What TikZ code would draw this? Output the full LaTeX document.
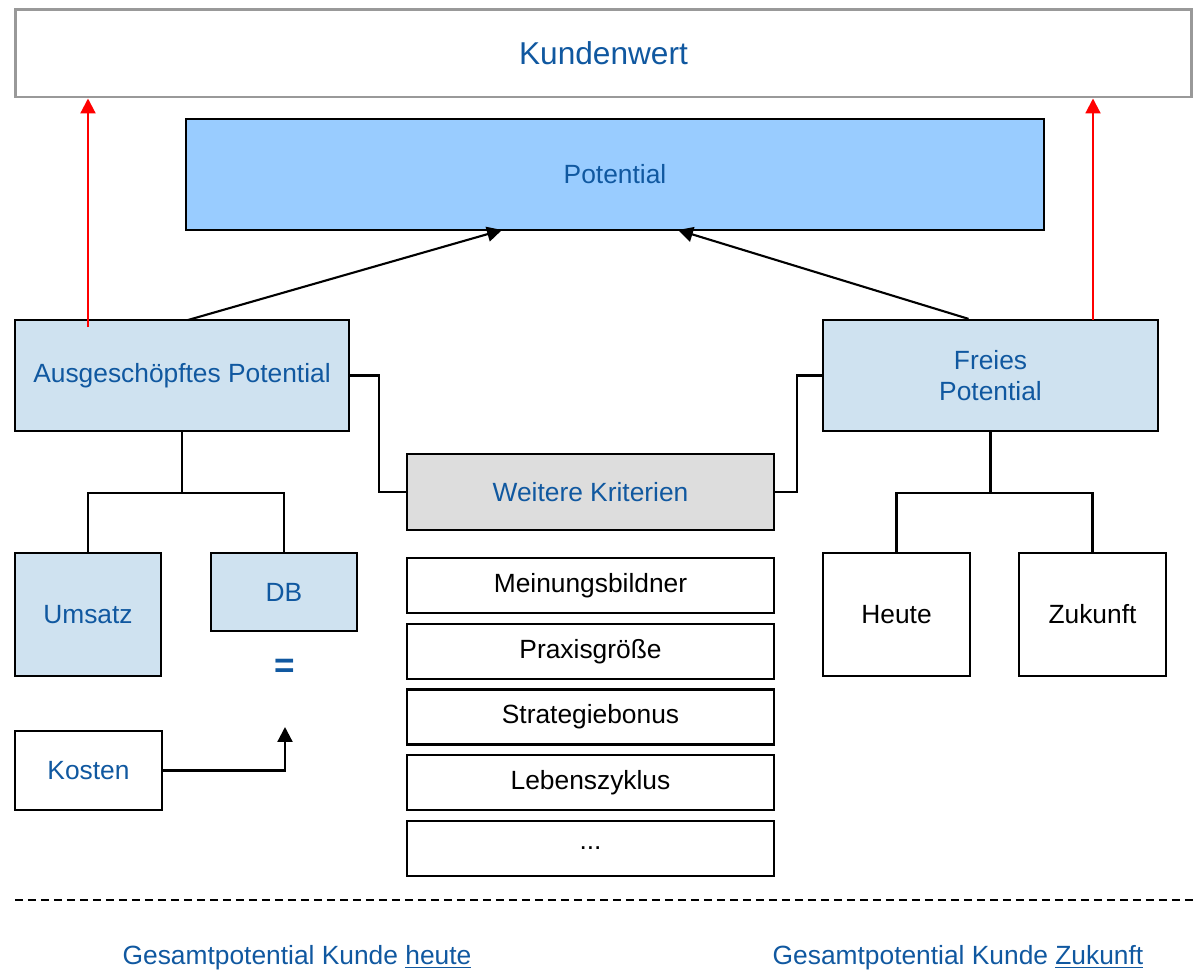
\documentclass[tikz,border=0pt]{standalone}
\usepackage{fontspec}
\setmainfont{Liberation Sans}
\usetikzlibrary{arrows.meta}
\definecolor{kwblue}{RGB}{16,88,160}
\definecolor{potfill}{RGB}{153,204,255}
\definecolor{lightfill}{RGB}{207,226,240}
\definecolor{greyfill}{RGB}{221,221,221}
\definecolor{kwframe}{RGB}{153,153,153}
\newcommand{\critdots}{...}
\tikzset{
    box/.style={draw, line width=1.3pt, inner sep=0pt, font=\fontsize{15}{18}\selectfont},
    bluebox/.style={box, text=kwblue},
    critbox/.style={box, fill=white, minimum width=7.34cm, minimum height=1.1cm},
    tip/.style={-{Triangle[length=8.5pt, width=8.5pt]}}
}
\begin{document}
\begin{tikzpicture}[x=0.02cm, y=-0.02cm]
    \useasboundingbox (0,0) rectangle (1194,974);

    \node[bluebox, draw=kwframe, line width=1.7pt, fill=white, minimum width=23.54cm, minimum height=1.76cm, font=\fontsize{18}{22}\selectfont] (kw) at (603.5,53) {Kundenwert};
    \node[bluebox, fill=potfill, minimum width=17.16cm, minimum height=2.22cm] (pot) at (615,174.5) {Potential};
    \node[bluebox, fill=lightfill, minimum width=6.68cm, minimum height=2.22cm] (aus) at (182,375.5) {Ausgeschöpftes Potential};
    \node[bluebox, fill=lightfill, minimum width=6.7cm, minimum height=2.22cm, align=center] (frei) at (990.5,375.5) {Freies\\Potential};
    \node[bluebox, fill=greyfill, minimum width=7.34cm, minimum height=1.52cm] (wk) at (590.5,492) {Weitere Kriterien};

    \foreach \name/\crit [count=\i from 0] in {mb/Meinungsbildner, pg/Praxisgröße, sb/Strategiebonus, lz/Lebenszyklus, etc/\critdots}
        \node[critbox] (\name) at (590.5, 585.5+65.75*\i) {\crit};

    \node[bluebox, fill=lightfill, minimum width=2.92cm, minimum height=2.46cm] (ums) at (88,614.5) {Umsatz};
    \node[bluebox, fill=lightfill, minimum width=2.92cm, minimum height=1.56cm] (db) at (284,592) {DB};
    \node[text=kwblue, font=\fontsize{20}{24}\selectfont\bfseries] (eq) at (285,668) {=};
    \node[bluebox, fill=white, minimum width=2.94cm, minimum height=1.58cm] (kos) at (88.5,770.5) {Kosten};
    \node[box, fill=white, minimum width=2.94cm, minimum height=2.46cm] (heu) at (896.5,614.5) {Heute};
    \node[box, fill=white, minimum width=2.94cm, minimum height=2.46cm] (zuk) at (1092.5,614.5) {Zukunft};

    \coordinate (pa) at (502,230); \coordinate (pb) at (678,230); \coordinate (dbin) at (285,727);
    \coordinate (ra) at (88,327); \coordinate (rb) at (1093,320); \coordinate (aa) at (188,320);

    \draw[tip, line width=1.2pt] (aa) -- (pa); \draw[tip, line width=1.2pt] (frei.north) ++(-22,0) -- (pb);
    \draw[tip, red, line width=1.2pt] (ra) -- (ra |- kw.south); \draw[tip, red, line width=1.2pt] (rb) -- (rb |- kw.south);

    \draw[line width=1.4pt] (aus.south) -- ++(0,61) -| (ums.north); \draw[line width=1.4pt] (aus.south) -- ++(0,61) -| (db.north);
    \draw[line width=1.4pt] (frei.south) -- ++(0,61) -| (heu.north); \draw[line width=1.4pt] (frei.south) -- ++(0,61) -| (zuk.north);
    \draw[line width=1.3pt] (aus.east) -- ++(29,0) |- (wk.west); \draw[line width=1.3pt] (frei.west) -- ++(-25,0) |- (wk.east);
    \draw[tip, line width=1.3pt] (kos.east) -| (dbin);

    \draw[line width=1.2pt, dash pattern=on 0.16cm off 0.1cm] (15,900) -- (1194,900);

    \node[text=kwblue, font=\fontsize{15}{18}\selectfont] (gh) at (297,958) {Gesamtpotential Kunde \underline{heute}};
    \node[text=kwblue, font=\fontsize{15}{18}\selectfont] (gz) at (958,958) {Gesamtpotential Kunde \underline{Zukunft}};
\end{tikzpicture}
\end{document}
